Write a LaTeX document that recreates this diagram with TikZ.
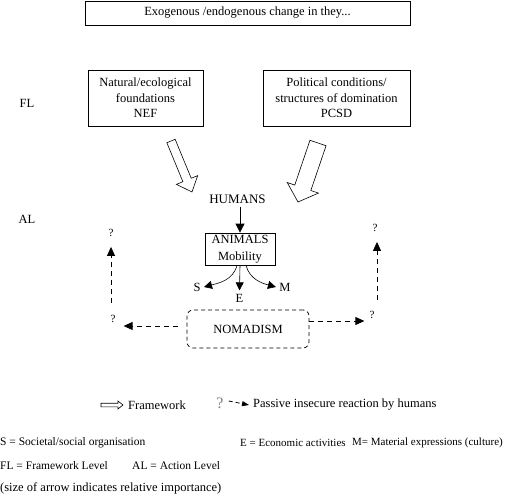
\documentclass[tikz,border=0pt]{standalone}
\usepackage{fontspec}
\setmainfont{Liberation Serif}
\usetikzlibrary{arrows.meta, calc}

\begin{document}
\begin{tikzpicture}[
    x=1pt, y=-1pt,
    font=\fontsize{12.5}{15.5}\selectfont,
    box/.style={draw, line width=0.8pt, align=center, inner sep=2pt},
    framework/.style={draw, line width=0.6pt, fill=white, line join=miter},
    push/.style={line width=0.8pt, -{Triangle[length=9pt,width=9pt]}},
    branch/.style={line width=0.6pt, -{Triangle[length=8pt,width=8pt]}},
    passive/.style={line width=0.8pt, dash pattern=on 5pt off 4pt,
        -{Triangle[length=9pt,width=8pt]}},
    query/.style={font=\fontsize{11}{11}\selectfont, inner sep=2pt},
    key/.style={anchor=west, inner sep=0pt},
    note/.style={anchor=west, inner sep=0pt, font=\fontsize{11.5}{14}\selectfont}
]
\useasboundingbox (0,0) rectangle (505,497);

% block arrow: tail, tip, shaft half width, head half width, head length
\def\hollowarrow#1#2#3#4#5{%
    \draw[framework] let \p1=($(#2)-(#1)$), \n1={atan2(\y1,\x1)} in
        ($(#1)+({\n1+90}:#3)$) -- ($(#2)!#5!(#1)+({\n1+90}:#3)$)
        -- ($(#2)!#5!(#1)+({\n1+90}:#4)$) -- (#2)
        -- ($(#2)!#5!(#1)+({\n1-90}:#4)$) -- ($(#2)!#5!(#1)+({\n1-90}:#3)$)
        -- ($(#1)+({\n1-90}:#3)$) -- cycle;}

% =========================
% FRAMEWORK LEVEL
% =========================
\node[box, minimum width=325pt, minimum height=24pt] (change) at (247.5,13)
    {Exogenous /endogenous change in they...};

\node[box, minimum width=115pt, minimum height=56pt] (nef) at (145.5,98)
    {Natural/ecological\\foundations\\NEF};
\node[box, minimum width=147pt, minimum height=56pt] (pcsd) at (336.5,98)
    {Political conditions/\\structures of domination\\PCSD};

\node (fl) at (27,103) {FL};
\node (al) at (27,219) {AL};

% framework arrows (size = importance)
\coordinate (nef tail) at (171,141);
\coordinate (nef tip) at (192,192);
\coordinate (pcsd tail) at (318,143);
\coordinate (pcsd tip) at (298,202);
\hollowarrow{nef tail}{nef tip}{4.5pt}{11.5pt}{13pt}
\hollowarrow{pcsd tail}{pcsd tip}{8.5pt}{16.5pt}{15pt}

% =========================
% ACTION LEVEL
% =========================
\node[font=\fontsize{13}{13}\selectfont] (humans) at (237.5,199) {HUMANS};
\node[box, minimum width=70pt, minimum height=32pt] (animals) at (240,249)
    {ANIMALS\\[1pt]Mobility};
\draw[push] (animals.north |- humans.south) -- (animals.north);

\node (s) at (197,287) {S};
\node (e) at (239.5,298) {E};
\node (m) at (285,287) {M};
\draw[branch] ([xshift=-3pt]animals.south) to[out=-105,in=15] (s.east);
\draw[branch] (animals.south) -- (e.north);
\draw[branch] ([xshift=6pt]animals.south) to[out=-75,in=165] (m.west);

\node[draw, line width=0.7pt, dash pattern=on 4pt off 3pt, rounded corners=6pt,
    minimum width=122pt, minimum height=38pt] (nomad) at (248,329) {NOMADISM};

% passive reactions
\node[query] (q left up) at (111,233) {?};
\node[query] (q left) at (113,319) {?};
\node[query] (q right up) at (375,228) {?};
\node[query] (q right) at (372,315) {?};

\draw[passive] ([xshift=-9pt,yshift=3pt]nomad.west) -- ([xshift=6pt,yshift=-7pt]q left.east);
\draw[passive] ([yshift=8pt]nomad.east) -- ([xshift=-3pt,yshift=-6pt]q right.west);
\draw[passive] ([xshift=-2pt,yshift=10pt]q left.north) -- ([yshift=-8pt]q left up.south);
\draw[passive] ([xshift=5pt,yshift=9pt]q right.north) -- ([xshift=2pt,yshift=-8pt]q right up.south);

% =========================
% LEGEND
% =========================
\coordinate (fw tail) at (101,405);
\coordinate (fw tip) at (123,405);
\hollowarrow{fw tail}{fw tip}{1.8pt}{4pt}{5pt}
\node[key] (fw key) at (128,405) {Framework};

\node[font=\fontsize{16}{16}\selectfont, text=gray, inner sep=1pt] (q key) at (220,403) {?};
\node[key] (passive key) at (253,405) {Passive insecure reaction by humans};
\draw[line width=0.8pt, dash pattern=on 4pt off 3pt, -{Triangle[length=7pt,width=5pt]}]
    ([xshift=4pt,yshift=2pt]q key.east) -- ([xshift=-4pt]passive key.west);

\node[note] (s key) at (0,443) {S = Societal/social organisation};
\node[note, font=\fontsize{11}{13}\selectfont] (e key) at (240,443) {E = Economic activities};
\node[note, anchor=east, font=\fontsize{11}{13}\selectfont] (m key) at (503,443)
    {M= Material expressions (culture)};
\node[note] (fl key) at (0,466) {FL = Framework Level};
\node[note] (al key) at (132,466) {AL = Action Level};
\node[note, font=\fontsize{12.5}{14}\selectfont] (size key) at (0,488)
    {(size of arrow indicates relative importance)};
\end{tikzpicture}
\end{document}
